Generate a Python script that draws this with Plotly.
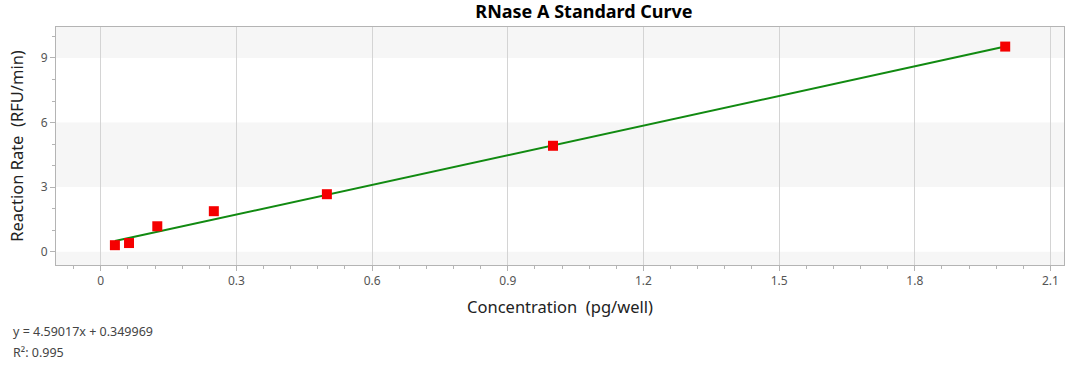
import plotly.graph_objects as go

conc = [0.03125, 0.0625, 0.125, 0.25, 0.5, 1.0, 2.0]
rate = [0.30, 0.40, 1.18, 1.88, 2.67, 4.92, 9.53]
slope = 4.59017
intercept = 0.349969
r2 = 0.995
x_ticks = [0, 0.3, 0.6, 0.9, 1.2, 1.5, 1.8, 2.1]
x_tick_labels = ["0", "0.3", "0.6", "0.9", "1.2", "1.5", "1.8", "2.1"]
y_ticks = [0, 3, 6, 9]
y_tick_labels = ["0", "3", "6", "9"]

x_range = [-0.099, 2.13]
y_range = [-0.62, 10.44]

FONT = "Noto Sans"
W, H = 1074, 372

fit_x = [min(conc), max(conc)]
fit_y = [slope * v + intercept for v in fit_x]

fig = go.Figure()
fig.add_trace(go.Scatter(x=fit_x, y=fit_y, mode="lines",
                         line=dict(color="#118a11", width=2), showlegend=False, hoverinfo="skip"))
fig.add_trace(go.Scatter(x=conc, y=rate, mode="markers",
                         marker=dict(symbol="square", size=10, color="#f50000",
                                     line=dict(width=0)),
                         showlegend=False))

# alternating background bands
bands = [(y_range[0], 0), (3, 6), (9, y_range[1])]
for b0, b1 in bands:
    fig.add_shape(type="rect", xref="paper", yref="y", x0=0, x1=1, y0=b0, y1=b1,
                  fillcolor="#f6f6f6", line=dict(width=0), layer="below")

fig.update_layout(
    width=W, height=H,
    margin=dict(l=56, r=10, t=27, b=107),
    paper_bgcolor="white", plot_bgcolor="white",
    font=dict(family=FONT, color="#444"),
    title=dict(text="<b>RNase A Standard Curve</b>", x=584 / W, xanchor="center",
               y=1 - 12 / H, yanchor="middle", xref="container", yref="container",
               font=dict(size=18, color="#000", family=FONT)),
    xaxis=dict(range=x_range, tickvals=x_ticks, ticktext=x_tick_labels, automargin=False,
               showgrid=True, gridcolor="#d4d4d4", gridwidth=1, zeroline=False,
               showline=True, linecolor="#b4b4b4", linewidth=1, mirror=True,
               ticks="outside", ticklen=5, tickcolor="#b4b4b4",
               minor=dict(dtick=0.06, tick0=0, ticks="outside", ticklen=3, tickcolor="#b4b4b4", showgrid=False),
               tickfont=dict(size=12, color="#555"),
               title=dict(text="Concentration  (pg/well)", font=dict(size=16.5, color="#222"), standoff=13)),
    yaxis=dict(range=y_range, tickvals=y_ticks, ticktext=y_tick_labels, automargin=False,
               showgrid=False, zeroline=False,
               showline=True, linecolor="#b4b4b4", linewidth=1, mirror=True,
               ticks="outside", ticklen=5, tickcolor="#b4b4b4",
               minor=dict(dtick=1, tick0=0, ticks="outside", ticklen=3, tickcolor="#b4b4b4", showgrid=False),
               tickfont=dict(size=12, color="#555"),
               title=dict(text="Reaction Rate  (RFU/min)", font=dict(size=16.5, color="#222"), standoff=12)),
)

fig.add_annotation(text=f"y = {slope}x + {intercept}", xref="paper", yref="paper",
                   x=-45 / 1008, y=-(331 - 265) / 238, xanchor="left", yanchor="middle",
                   showarrow=False, font=dict(size=12.5, color="#444"))
fig.add_annotation(text=f"R²: {r2}", xref="paper", yref="paper",
                   x=-45 / 1008, y=-(352 - 265) / 238, xanchor="left", yanchor="middle",
                   showarrow=False, font=dict(size=12.5, color="#444"))

fig.write_html("out.html", config={"displayModeBar": False},
               post_script="document.body.style.margin='0';")
